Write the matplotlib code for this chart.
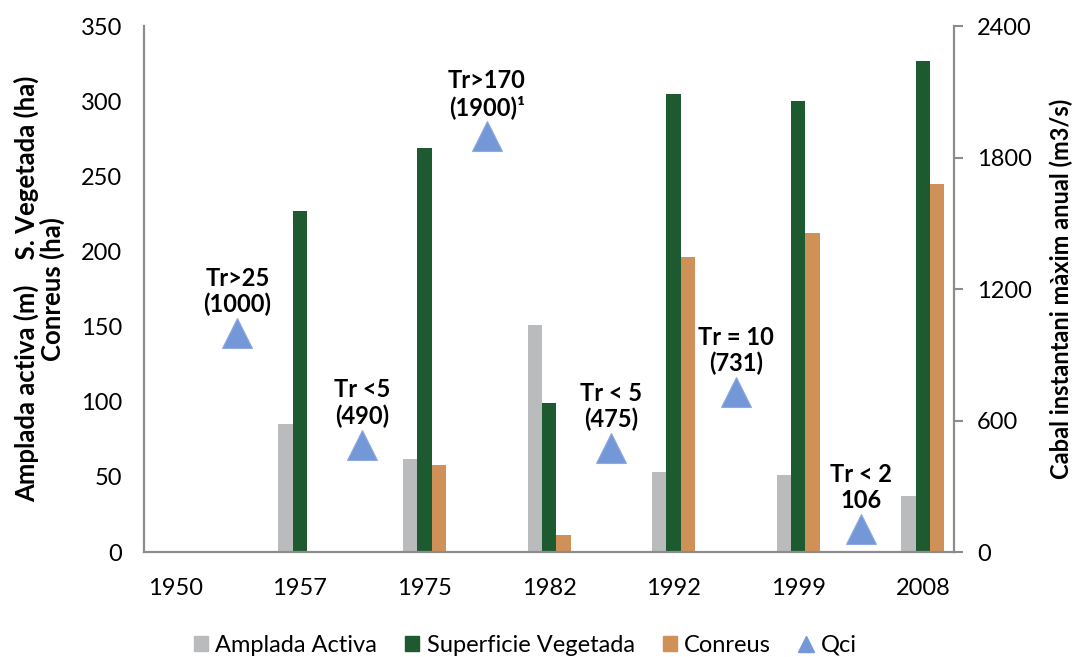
import numpy as np
import matplotlib
matplotlib.use("Agg")
import matplotlib.pyplot as plt
from matplotlib.patches import Patch
from matplotlib.lines import Line2D

plt.rcParams['font.family'] = ['Lato', 'DejaVu Sans']

# dades
anys = ['1950', '1957', '1975', '1982', '1992', '1999', '2008']
amplada_activa = [np.nan, 85, 62, 151, 53, 51, 37]
superficie_vegetada = [np.nan, 227, 269, 99, 305, 300, 327]
conreus = [np.nan, 0, 58, 11, 196, 212, 245]
qci = [1000, 490, 1900, 475, 731, 106]
qci_etiquetes = ['Tr>25\n(1000)', 'Tr <5\n(490)', 'Tr>170\n(1900)¹',
                 'Tr < 5\n(475)', 'Tr = 10\n(731)', 'Tr < 2\n106']

col_gris = '#b9bbbd'
col_verd = '#1d5a30'
col_conreu = '#cf9157'
col_qci = '#7497d8'
col_eix = '#8c8c8c'

fig = plt.figure(figsize=(10.74, 6.57), dpi=100)
ax = fig.add_axes([0.1341, 0.1598, 0.7542, 0.8006])
ax2 = ax.twinx()
ax2.set_zorder(ax.get_zorder() + 1)
ax2.patch.set_visible(False)

x = np.arange(len(anys))
w = 0.115
ax.bar(x - w, amplada_activa, w, color=col_gris, label='Amplada Activa')
ax.bar(x, superficie_vegetada, w, color=col_verd, label='Superficie Vegetada')
ax.bar(x + w, conreus, w, color=col_conreu, label='Conreus')

xq = np.arange(len(qci)) + 0.5
ax2.plot(xq, qci, linestyle='none', marker='^', markersize=22,
         color=col_qci, markeredgecolor='#8eaae0', markeredgewidth=0.8)
for xi, yi, txt in zip(xq, qci, qci_etiquetes):
    ax2.annotate(txt, (xi, yi), xytext=(0, 12), textcoords='offset points',
                 ha='center', va='bottom', multialignment='center',
                 fontsize=17, fontweight='bold', linespacing=1.15)

ax.set_xlim(-0.25, 6.25)
ax.set_ylim(0, 350)
ax2.set_ylim(0, 2400)
ax.set_xticks(x)
ax.set_xticklabels(anys)
ax.set_yticks(range(0, 351, 50))
ax2.set_yticks(range(0, 2401, 600))

for a in (ax, ax2):
    a.spines['top'].set_visible(False)
    for s in ('left', 'bottom', 'right'):
        a.spines[s].set_color(col_eix)
        a.spines[s].set_linewidth(1.6)
ax.spines['right'].set_visible(False)
ax2.spines['left'].set_visible(False)
ax2.spines['bottom'].set_visible(False)

ax.tick_params(axis='x', length=0, pad=19, labelsize=17)
ax.tick_params(axis='y', length=0, pad=16, labelsize=17)
ax2.tick_params(axis='y', length=6.5, width=1.5, color=col_eix, pad=10,
                labelsize=17)

ax.set_ylabel('Amplada activa (m)    S. Vegetada (ha)\nConreus (ha)',
              fontsize=18.5, fontweight='bold', multialignment='center',
              linespacing=1.0)
ax.yaxis.set_label_coords(-0.098, 0.5)
ax2.set_ylabel('Cabal instantani màxim anual (m3/s)', fontsize=17,
               fontweight='bold')
ax2.yaxis.set_label_coords(1.118, 0.5)

handles = [
    Patch(color=col_gris, label='Amplada Activa'),
    Patch(color=col_verd, label='Superficie Vegetada'),
    Patch(color=col_conreu, label='Conreus'),
    Line2D([], [], linestyle='none', marker='^', markersize=11,
           color=col_qci, label='Qci'),
]
fig.legend(handles=handles, loc='center', bbox_to_anchor=(0.489, 0.018),
           ncol=4, frameon=False, fontsize=17, handlelength=0.6,
           handleheight=0.6, handletextpad=0.3, columnspacing=1.2)

fig.savefig('out.png', dpi=100)
